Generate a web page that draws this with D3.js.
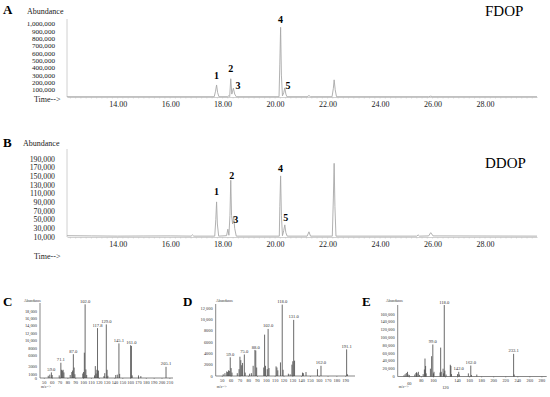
<!DOCTYPE html>
<html>
<head>
<meta charset="utf-8">
<script src="https://cdn.jsdelivr.net/npm/d3@7"></script>
<style>
  body { margin: 0; background: #fff; }
  svg { display: block; font-family: "Liberation Serif", "Times New Roman", serif; }
</style>
</head>
<body>
<div id="wrapper"></div>
<script>
// ---- data ----

// chromatograms (time in min, abundance)
const timeTicks = [14, 16, 18, 20, 22, 24, 26, 28];
const fdopTicks = [100000, 200000, 300000, 400000, 500000, 600000, 700000, 800000, 900000, 1000000];
const ddopTicks = [10000, 30000, 50000, 70000, 90000, 110000, 130000, 150000, 170000, 190000];

const fdopTrace = [
  [12.07, 4000], [17.68, 4000], [17.73, 80000], [17.77, 165000], [17.81, 60000], [17.86, 4000],
  [18.20, 4000], [18.24, 18000], [18.27, 6000], [18.31, 250000], [18.35, 40000], [18.38, 80000],
  [18.41, 120000], [18.46, 40000], [18.52, 4000], [20.15, 4000], [20.18, 450000], [20.21, 955000],
  [20.24, 300000], [20.28, 15000], [20.33, 60000], [20.37, 125000], [20.41, 40000], [20.45, 4000],
  [21.22, 4000], [21.29, 20000], [21.35, 4000], [22.17, 4000], [22.22, 120000], [22.25, 235000],
  [22.29, 100000], [22.34, 4000], [25.85, 4000], [25.93, 11000], [26.01, 4000], [29.98, 4000]
];
const ddopTrace = [
  [12.07, 13000], [13.0, 12500], [14.0, 12000], [15.0, 12300], [16.0, 12500], [16.80, 12000],
  [16.85, 15000], [16.90, 12000], [17.70, 12000], [17.74, 50000], [17.77, 91000], [17.80, 40000],
  [17.85, 12000], [18.15, 13000], [18.20, 28000], [18.24, 14000], [18.28, 60000], [18.31, 141000],
  [18.34, 60000], [18.38, 40000], [18.42, 58000], [18.46, 30000], [18.52, 12000], [20.16, 12000],
  [20.18, 80000], [20.21, 151000], [20.24, 60000], [20.28, 13000], [20.33, 25000], [20.37, 38000],
  [20.41, 20000], [20.46, 12000], [21.22, 12000], [21.29, 22000], [21.35, 12000], [22.18, 12000],
  [22.22, 100000], [22.25, 180000], [22.28, 80000], [22.32, 12000], [25.40, 12000], [25.45, 15000],
  [25.50, 12000], [25.85, 12500], [25.93, 20000], [26.02, 12500], [29.98, 12000]
];

// peak numbers: label, time, abundance at the label baseline
const fdopPeaks = [["1", 17.77, 253000], ["2", 18.31, 349000], ["3", 18.59, 116000], ["4", 20.21, 1007000], ["5", 20.49, 116000]];
const ddopPeaks = [["1", 17.77, 106000], ["2", 18.35, 143000], ["3", 18.50, 43000], ["4", 20.21, 159000], ["5", 20.41, 46000]];

// mass spectra: [m/z, abundance]
const specC = [
  [55, 600], [57, 900], [59, 1500], [60, 800], [69, 700], [71.1, 4100], [72, 2200], [73, 2000], [74, 2200],
  [75, 1500], [83, 800], [85, 1600], [86, 2000], [87, 6400], [88, 2800], [89, 1000], [99, 1200], [100, 1600],
  [101, 6800], [102, 19800], [103, 2300], [104, 800], [114, 700], [115, 3200], [116, 1200], [117, 2200],
  [117.8, 13400], [119, 2000], [126, 500], [127, 1300], [129, 14400], [130, 2200], [131, 600], [141, 800],
  [143, 900], [145.1, 9300], [146, 1100], [160, 8800], [161, 8600], [162, 700], [170, 700], [173, 500],
  [205.1, 3000]
];
const specD = [
  [51, 300], [53, 500], [55, 800], [56, 700], [57, 1000], [58, 900], [59, 3300], [60, 1400], [61, 600],
  [67, 500], [69, 1200], [70, 3400], [71, 2800], [72, 1900], [73, 2300], [75, 3800], [76, 600], [81, 400],
  [83, 500], [85, 1800], [87, 4600], [88, 4500], [89, 1500], [97, 1500], [98, 7300], [99, 1800], [101, 1200],
  [102, 8300], [103, 1400], [111, 1700], [112, 1500], [113, 1000], [116, 2400], [118, 12600], [119, 1100],
  [125, 400], [127, 300], [129, 2000], [130, 2600], [131, 9900], [132, 2700], [141, 600], [142, 500],
  [145, 700], [158, 1200], [162, 1800], [191.1, 4700], [192, 300]
];
const specE = [
  [51, 3000], [53, 6000], [55, 9000], [57, 12000], [58, 5000], [60, 4000], [69, 5000], [71, 9000], [72, 11000],
  [73, 8000], [75, 12000], [77, 4000], [83, 6000], [85, 18000], [86, 46000], [87, 27000], [88, 8000],
  [95, 20000], [97, 52000], [99, 82000], [100, 8000], [101, 12000], [111, 10000], [112, 74000], [113, 12000],
  [116, 20000], [117, 8000], [118, 183000], [119, 15000], [121, 5000], [128, 30000], [129, 27000], [130, 6000],
  [140, 6000], [142, 12000], [143, 5000], [158, 8000], [162, 28000], [163, 4000], [172, 5000], [233.1, 58000],
  [234, 5000]
];

const labelsC = [59.0, 71.1, 87.0, 102.0, 117.8, 129.0, 145.1, 161.0, 205.1];
const labelsD = [59.0, 75.0, 88.0, 102.0, 118.0, 131.0, 162.0, 191.1];
const labelsE = [99.0, 118.0, 142.0, 162.0, 233.1];

const mzTicksC = d3.range(50, 211, 10);
const mzTicksD = d3.range(50, 191, 10);
const mzTicksE = d3.range(60, 281, 20);
const abTicksC = [0, 1000, 3000, 6000, 8000, 10000, 12000, 14000, 16000, 18000];
const abTicksD = [0, 2000, 4000, 6000, 8000, 10000, 12000];
const abTicksE = [0, 20000, 40000, 60000, 80000, 100000, 120000, 140000, 160000];

// ---- drawing ----

const svg = d3.select("#wrapper")
  .append("svg")
    .attr("width", 550)
    .attr("height", 397);

const xTime = d3.scaleLinear().domain([12.07, 29.98]).range([67, 537]);

function drawChrom(o) {
  const g = svg.append("g");
  const y = d3.scaleLinear().domain(o.yDomain).range(o.yRange);
  const base = o.yRange[0];

  // axes
  g.append("line")
    .attr("x1", xTime.range()[0]).attr("x2", xTime.range()[0])
    .attr("y1", base).attr("y2", o.yTop)
    .attr("stroke", "#c4c4c4").attr("stroke-width", 0.8);

  const xAxis = g.append("g")
    .attr("transform", `translate(0,${base})`)
    .call(d3.axisBottom(xTime).tickValues(timeTicks).tickFormat(d3.format(".2f")).tickSize(0).tickPadding(4));
  xAxis.select(".domain").attr("stroke", "#c4c4c4").attr("stroke-width", 0.8);
  xAxis.selectAll("text").attr("font-size", 8).attr("fill", "#222").attr("font-family", "Liberation Serif");

  // minor ticks on time axis
  g.append("g")
    .selectAll("line")
    .data(d3.range(12.2, 29.9, 0.2))
    .join("line")
      .attr("x1", d => xTime(d)).attr("x2", d => xTime(d))
      .attr("y1", base).attr("y2", base + 1.5)
      .attr("stroke", "#c4c4c4").attr("stroke-width", 0.6);

  g.append("g")
    .selectAll("text")
    .data(o.yTicks)
    .join("text")
      .attr("x", xTime.range()[0] - 12)
      .attr("y", d => y(d))
      .attr("dy", "0.35em")
      .attr("text-anchor", "end")
      .attr("font-size", o.tickFont)
      .attr("fill", "#222")
      .text(d3.format(","));

  // trace
  g.append("path")
    .datum(o.trace)
    .attr("fill", "none")
    .attr("stroke", "#a8a8a8")
    .attr("stroke-width", 0.9)
    .attr("d", d3.line().x(d => xTime(d[0])).y(d => y(d[1])));

  // peak numbers
  g.append("g")
    .selectAll("text")
    .data(o.peaks)
    .join("text")
      .attr("x", d => xTime(d[1]))
      .attr("y", d => y(d[2]))
      .attr("text-anchor", "middle")
      .attr("font-size", 10)
      .attr("font-weight", "bold")
      .text(d => d[0]);

  // labels
  g.append("text").attr("x", 3).attr("y", o.letterY).attr("font-size", 13).attr("font-weight", "bold").text(o.letter);
  g.append("text").attr("x", o.abX).attr("y", o.abY).attr("font-size", 8).attr("fill", "#222").text("Abundance");
  g.append("text").attr("x", 34).attr("y", o.timeY).attr("font-size", 8).attr("fill", "#222").text("Time-->");
  g.append("text").attr("x", 485).attr("y", o.nameY).attr("font-size", 15).text(o.name);
}

drawChrom({
  yDomain: [0, 1000000], yRange: [97, 24], yTop: 19, yTicks: fdopTicks, tickFont: 7.1,
  trace: fdopTrace, peaks: fdopPeaks,
  letter: "A", letterY: 14, abX: 27, abY: 14, timeY: 102, name: "FDOP", nameY: 16
});
drawChrom({
  yDomain: [10000, 190000], yRange: [237, 159], yTop: 149, yTicks: ddopTicks, tickFont: 7.8,
  trace: ddopTrace, peaks: ddopPeaks,
  letter: "B", letterY: 147, abX: 23, abY: 146, timeY: 259, name: "DDOP", nameY: 168
});

const fmtAb = v => v >= 10000 ? d3.format(",")(v) : String(v);

function drawSpec(o) {
  const g = svg.append("g");
  const x = d3.scaleLinear().domain(o.xDomain).range(o.xRange);
  const y = d3.scaleLinear().domain(o.yDomain).range(o.yRange);
  const base = o.yRange[0];
  const x0 = o.xRange[0];

  g.append("line")
    .attr("x1", x0).attr("x2", x0).attr("y1", base).attr("y2", o.yTop)
    .attr("stroke", "#555").attr("stroke-width", 0.7);
  g.append("line")
    .attr("x1", x0).attr("x2", o.xRange[1]).attr("y1", base).attr("y2", base)
    .attr("stroke", "#555").attr("stroke-width", 0.7);

  g.append("g")
    .selectAll("line")
    .data(o.xTicks)
    .join("line")
      .attr("x1", d => x(d)).attr("x2", d => x(d))
      .attr("y1", base).attr("y2", base + 1)
      .attr("stroke", "#555").attr("stroke-width", 0.5);

  g.append("g")
    .selectAll("text")
    .data(o.xTicks)
    .join("text")
      .attr("x", d => x(d))
      .attr("y", base + 5.5)
      .attr("dy", d => (o.lowTicks && o.lowTicks[d]) || 0)
      .attr("text-anchor", "middle")
      .attr("font-size", 4.4)
      .attr("fill", "#333")
      .text(d => d);

  g.append("g")
    .selectAll("text")
    .data(o.yTicks)
    .join("text")
      .attr("x", x0 - 3)
      .attr("y", d => y(d))
      .attr("dy", "0.35em")
      .attr("text-anchor", "end")
      .attr("font-size", 4.4)
      .attr("fill", "#333")
      .text(fmtAb);

  // spectrum bars
  g.append("g")
    .selectAll("line")
    .data(o.spec)
    .join("line")
      .attr("x1", d => x(d[0])).attr("x2", d => x(d[0]))
      .attr("y1", base).attr("y2", d => y(d[1]))
      .attr("stroke", "#444").attr("stroke-width", 0.8);

  // peak labels
  const lookup = new Map(o.spec.map(d => [d[0], d[1]]));
  g.append("g")
    .selectAll("text")
    .data(o.labels)
    .join("text")
      .attr("x", d => x(d))
      .attr("y", d => y(lookup.get(d)) - 1.5)
      .attr("text-anchor", "middle")
      .attr("font-size", 4.6)
      .attr("fill", "#333")
      .text(d => d.toFixed(1));

  g.append("text").attr("x", o.letterX).attr("y", 306).attr("font-size", 13).attr("font-weight", "bold").text(o.letter);
  g.append("text").attr("x", o.abX).attr("y", 302).attr("font-size", 3.8).attr("fill", "#333").text("Abundance");
  g.append("text").attr("x", x0 + 1).attr("y", 388).attr("font-size", 3.6).attr("fill", "#333").text("m/z-->");
}

drawSpec({
  xDomain: [44.5, 214], xRange: [40, 173], yDomain: [0, 18000], yRange: [378, 311], yTop: 303,
  xTicks: mzTicksC, yTicks: abTicksC, spec: specC, labels: labelsC,
  letter: "C", letterX: 3, abX: 24
});
drawSpec({
  xDomain: [42.5, 200.6], xRange: [215.7, 355], yDomain: [0, 12000], yRange: [376, 308], yTop: 304,
  xTicks: mzTicksD, yTicks: abTicksD, spec: specD, labels: labelsD,
  letter: "D", letterX: 183, abX: 216
});
drawSpec({
  xDomain: [40.7, 288], xRange: [397.7, 546.7], yDomain: [0, 160000], yRange: [376.5, 314], yTop: 305,
  xTicks: mzTicksE, yTicks: abTicksE, spec: specE, labels: labelsE,
  letter: "E", letterX: 362, abX: 386, lowTicks: { 60: 3, 120: 7 }
});
</script>
</body>
</html>
